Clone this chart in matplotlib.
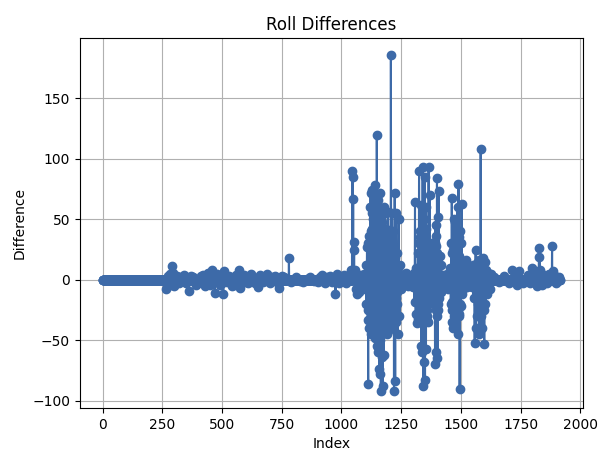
import numpy as np
import matplotlib
matplotlib.use("Agg")
import matplotlib.pyplot as plt

n_points = 1916

# quiet stretch 260-1090 (index, value)
low_idx = [265, 272, 280, 285, 290, 295, 300, 310, 320, 330, 340, 350, 360, 370,
           380, 390, 400, 410, 420, 430, 440, 450, 460, 465, 470, 480, 490, 500,
           505, 510, 520, 530, 540, 550, 560, 570, 575, 580, 590, 600, 610, 620,
           630, 640, 650, 660, 670, 680, 690, 700, 710, 720, 730, 740, 750, 760,
           780, 790, 810, 825, 840, 855, 870, 885, 900, 910, 920, 930, 940, 950,
           960, 975, 980, 990, 1000, 1010, 1020, 1030, 1042, 1045, 1047, 1049,
           1051, 1053, 1055, 1060, 1066, 1072, 1078, 1085, 1090]
low_val = [-8, 3, 5, -4, 11, 6, -5, 3, -3, 2, 4, -3, -9, 3,
           2, -4, -3, 3, 4, -5, 6, -4, 8, 3, -11, 5, -4, -3,
           -12, 7, -2, 3, -5, -4, 4, 8, -7, 3, 4, -2, -3, 5,
           2, -3, -6, 4, -2, 3, 5, -3, 2, 3, -2, -7, 3, 2,
           18, -2, 2, -1, -2, 1, 2, -1, -2, 2, 4, -3, 2, 3,
           -2, -12, 5, -3, 2, 4, -3, 2, 8, 90, 85, 67,
           31, 25, 8, -8, -12, -10, 4, -6, 3]

# first burst 1095-1250
burst1_idx = [1095, 1098, 1101, 1104, 1107, 1110, 1112, 1115, 1117, 1120, 1122, 1124,
              1126, 1128, 1130, 1132, 1134, 1136, 1138, 1140, 1142, 1144, 1148, 1150,
              1152, 1154, 1156, 1158, 1160, 1162, 1165, 1167, 1169, 1171, 1173, 1175,
              1177, 1179, 1181, 1183, 1185, 1187, 1189, 1191, 1193, 1195, 1197, 1199,
              1201, 1203, 1207, 1209, 1211, 1213, 1215, 1217, 1219, 1220, 1223, 1225,
              1227, 1229, 1231, 1233, 1235, 1237, 1240, 1243, 1246, 1249]
burst1_val = [5, -8, 12, -20, 27, -33, -86, 36, -40, 60, 72, -45,
              55, -30, 74, -42, 50, -25, 70, 78, -48, 45, 120, -55,
              66, -60, 50, -74, 72, -78, -92, 58, -64, 48, -88, 40,
              -62, 60, -30, 55, -38, 42, -45, 35, -28, 56, -42, 38,
              -20, 30, 186, -25, 55, -40, 40, -30, 25, -92, 72, -84,
              -35, 55, -20, 22, -45, 10, 50, -30, 12, -8]
burst1_fill_idx = [1111, 1113, 1119, 1121, 1123, 1125, 1127, 1129, 1131, 1133, 1135, 1137,
                   1139, 1141, 1143, 1145, 1147, 1149, 1151, 1153, 1155, 1157, 1159, 1161,
                   1163, 1164, 1166, 1168, 1170, 1172, 1174, 1176, 1178, 1180, 1182, 1184,
                   1186, 1188, 1190, 1192, 1194, 1196, 1198, 1200, 1202, 1204, 1206, 1208,
                   1210, 1212, 1214, 1216, 1218, 1222, 1224, 1226, 1228, 1230, 1232]
burst1_fill_val = [-25, 30, -20, 35, -38, 40, -30, 42, -35, 38, -28, 45,
                   -40, 35, -32, 40, -45, 30, -38, 42, -36, 35, -42, 40,
                   -50, 30, -35, 42, -40, 35, -38, 40, -32, 30, -40, 36,
                   -30, 34, -28, 30, -35, 32, -25, 40, -30, 28, -22, 30,
                   -26, 32, -24, 28, -30, 20, -25, 18, -15, 12, -10]

# second burst 1255-1450
burst2_idx = [1255, 1262, 1270, 1280, 1290, 1298, 1303, 1306, 1308, 1311, 1314, 1317,
              1320, 1322, 1325, 1327, 1329, 1331, 1333, 1335, 1337, 1339, 1340, 1342,
              1344, 1346, 1348, 1350, 1352, 1354, 1356, 1358, 1360, 1362, 1365, 1367,
              1369, 1371, 1373, 1375, 1378, 1381, 1384, 1387, 1390, 1392, 1394, 1396,
              1398, 1400, 1402, 1404, 1406, 1408, 1410, 1412, 1415, 1418, 1421, 1425,
              1432, 1440, 1448]
burst2_val = [4, -3, 6, -5, 3, -6, 6, -18, 64, -28, 10, -36,
              22, -32, 90, -22, 40, -25, 62, -55, 30, -60, 93, -88,
              50, -68, 85, -83, 60, -57, 42, -30, 25, -35, 93, -15,
              70, -10, 30, -18, 20, -8, 15, -20, 10, -70, 45, -60,
              36, 84, -65, 52, -25, 73, -15, 20, -10, 12, -5, 4,
              -6, 5, -8]
burst2_fill_idx = [1323, 1326, 1328, 1330, 1332, 1334, 1336, 1338, 1341, 1343, 1345, 1347,
                   1349, 1351, 1353, 1355, 1357, 1359, 1361, 1363, 1364, 1366, 1368, 1370,
                   1393, 1395, 1397, 1399, 1401, 1403, 1405]
burst2_fill_val = [-28, 30, -20, 35, -30, 28, -25, 32, -28, 30, -35, 26,
                   -30, 28, -22, 30, -25, 20, -18, 22, -15, 25, -12, 18,
                   30, -25, 28, -30, 22, -20, 18]

# third burst 1455-1625
burst3_idx = [1455, 1458, 1460, 1462, 1464, 1466, 1468, 1470, 1472, 1474, 1476, 1478,
              1480, 1482, 1484, 1486, 1488, 1490, 1492, 1495, 1497, 1499, 1501, 1503,
              1505, 1508, 1511, 1514, 1518, 1522, 1526, 1530, 1535, 1540, 1545, 1550,
              1553, 1556, 1558, 1560, 1562, 1564, 1566, 1568, 1570, 1572, 1575, 1578,
              1580, 1583, 1586, 1588, 1590, 1592, 1595, 1598, 1600, 1603, 1606, 1610,
              1615, 1620, 1625]
burst3_val = [10, -20, 30, 68, -35, 25, -40, 50, -38, 48, -30, 20,
              -25, 35, -20, 60, -45, 79, -30, -90, 40, -22, 30, 63,
              -12, 15, -8, 12, -5, 16, -6, 10, -4, 8, -6, 12,
              -15, 10, -52, 12, 25, -40, 14, -30, 10, -20, 16, -45,
              8, 108, -30, 12, -40, 18, -25, -53, 15, -20, 8, -12,
              6, -8, 5]
burst3_fill_idx = [1461, 1463, 1465, 1467, 1469, 1471, 1473, 1475, 1477, 1479, 1481, 1483,
                   1485, 1487, 1489, 1491, 1493, 1494, 1496, 1498]
burst3_fill_val = [-18, 22, -25, 30, -22, 28, -30, 25, -20, 18, -22, 20,
                   -18, 30, -25, 35, -28, 20, -20, 15]

# tail 1630-1915
tail_idx = [1640, 1660, 1680, 1700, 1715, 1725, 1735, 1745, 1760, 1780, 1790, 1800,
            1810, 1820, 1827, 1829, 1832, 1840, 1850, 1860, 1870, 1882, 1885, 1890,
            1900, 1910]
tail_val = [2, -2, 3, -3, 8, 5, -4, 7, -3, 4, -3, 10,
            3, -5, 26, 19, 8, -4, 4, -3, 5, 28, 7, 4,
            -3, 2]

diffs = np.zeros(n_points)
for idx_list, val_list in [(low_idx, low_val), (burst1_idx, burst1_val),
                           (burst1_fill_idx, burst1_fill_val),
                           (burst2_idx, burst2_val), (burst2_fill_idx, burst2_fill_val),
                           (burst3_idx, burst3_val), (burst3_fill_idx, burst3_fill_val),
                           (tail_idx, tail_val)]:
    diffs[idx_list] = val_list

fig, ax = plt.subplots(figsize=(6.09, 4.63), dpi=100)
fig.subplots_adjust(left=0.131, right=0.957, top=0.918, bottom=0.119)

ax.plot(np.arange(n_points), diffs, marker="o", color="#3d6aa8")
ax.set_title("Roll Differences")
ax.set_xlabel("Index")
ax.set_ylabel("Difference")
ax.grid(True)

fig.savefig("out.png", dpi=100)
